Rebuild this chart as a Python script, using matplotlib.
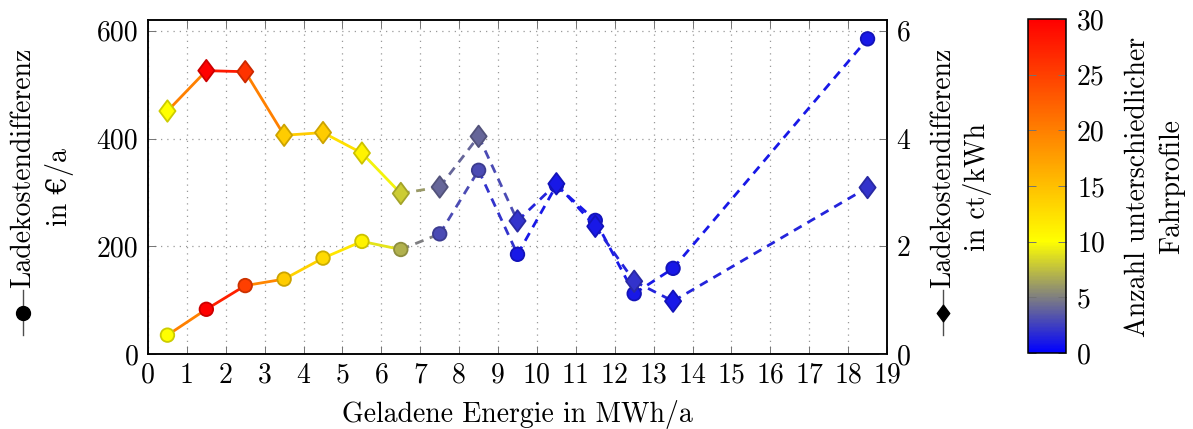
import numpy as np
import matplotlib.pyplot as plt
from matplotlib.colors import LinearSegmentedColormap, Normalize
from matplotlib.collections import LineCollection
from matplotlib.path import Path
from matplotlib.lines import Line2D

plt.rcParams['font.family'] = ['cmr10', 'DejaVu Serif']
plt.rcParams['mathtext.fontset'] = 'cm'
plt.rcParams['axes.unicode_minus'] = False
plt.rcParams['font.size'] = 20

# Daten: geladene Energie (Klassenmitte) und Kostendifferenzen
energie = [0.5, 1.5, 2.5, 3.5, 4.5, 5.5, 6.5, 7.5, 8.5, 9.5, 10.5, 11.5, 12.5, 13.5, 18.5]
kosten_jahr = [35, 83, 127, 139, 178, 209, 194, 223, 341, 185, 313, 248, 112, 159, 585]
kosten_kwh = [4.51, 5.26, 5.24, 4.06, 4.11, 3.73, 2.98, 3.10, 4.04, 2.47, 3.16, 2.37, 1.35, 0.98, 3.09]
profile_jahr = [10, 30, 25, 14, 13, 11, 7, 3, 3, 1, 1, 1, 1, 1, 1]
profile_kwh = [10, 30, 26, 14, 14, 11, 8, 4, 4, 2, 1, 1, 2, 1, 2]
grenze_gestrichelt = 6.5

# Farbskala blau -> grau -> gelb -> rot
cmap = LinearSegmentedColormap.from_list(
    'fahrprofile', [(0, (0, 0, 1)), (5 / 30, (0.5, 0.5, 0.5)), (10 / 30, (1, 1, 0)), (1, (1, 0, 0))])
norm = Normalize(0, 30)

raute = Path([(0, 1), (0.75, 0), (0, -1), (-0.75, 0), (0, 1)],
             [Path.MOVETO, Path.LINETO, Path.LINETO, Path.LINETO, Path.CLOSEPOLY])

W, H = 1193, 429
fig = plt.figure(figsize=(W / 100, H / 100), dpi=100)
ax = fig.add_axes([148 / W, 1 - 354 / H, (887 - 148) / W, (354 - 20) / H])
ax2 = ax.twinx()


def zeichne(achse, x, y, anzahl, marker, msize, z):
    x = np.asarray(x, float)
    y = np.asarray(y, float)
    anzahl = np.asarray(anzahl, float)
    segs = [[(x[i], y[i]), (x[i + 1], y[i + 1])] for i in range(len(x) - 1)]
    farben = [cmap(norm((anzahl[i] + anzahl[i + 1]) / 2)) for i in range(len(x) - 1)]
    stile = ['-' if x[i] < grenze_gestrichelt else (0, (3.2, 2.4)) for i in range(len(x) - 1)]
    lc = LineCollection(segs, colors=farben, linestyles=stile, linewidths=2.0, zorder=z)
    achse.add_collection(lc)
    fc = cmap(norm(anzahl))
    ec = fc.copy()
    ec[:, :3] *= 0.8
    achse.scatter(x, y, s=msize, marker=marker, c=fc, edgecolors=ec, linewidths=1.3, zorder=z + 1)


zeichne(ax, energie, kosten_jahr, profile_jahr, 'o', 95, 3)
zeichne(ax2, energie, kosten_kwh, profile_kwh, raute, 240, 3)

ax.set_xlim(0, 19)
ax.set_ylim(0, 620)
ax2.set_ylim(0, 6.2)
ax.set_xticks(range(0, 20))
ax.set_yticks([0, 200, 400, 600])
ax2.set_yticks([0, 2, 4, 6])
ax.grid(True, linestyle=(0, (1, 4)), color='0.6', linewidth=0.9)
ax.tick_params(axis='x', direction='in', top=True, length=6, width=0.7, color='0.45', pad=6)
ax.tick_params(axis='y', direction='in', length=6, width=0.7, color='0.45', pad=7)
ax2.tick_params(axis='y', direction='in', length=6, width=0.7, color='0.45', pad=7)
for a in (ax, ax2):
    for s in a.spines.values():
        s.set_linewidth(1.1)
ax.set_xlabel('Geladene Energie in MWh/a', labelpad=8)

# Achsenbeschriftungen mit Legendensymbol
def ylabel_mit_symbol(x1, x2, text2, marker, msize):
    fig.text(x1 / W, 1 - 288 / H, 'Ladekostendifferenz', rotation=90, ha='center', va='bottom')
    fig.text(x2 / W, 1 - 187 / H, text2, rotation=90, ha='center', va='center')
    fig.add_artist(Line2D([x1 / W, x1 / W], [1 - 290 / H, 1 - 335 / H], color='0.3', lw=1.0))
    fig.add_artist(Line2D([x1 / W], [1 - 313 / H], marker=marker, markersize=msize,
                          color='black', linestyle='none'))


ylabel_mit_symbol(23, 60, 'in €/a', 'o', 10)
ylabel_mit_symbol(943, 978, 'in ct/kWh', raute, 12)

# Farbbalken
cax = fig.add_axes([1028 / W, 1 - 353 / H, 38 / W, (353 - 19) / H])
sm = plt.cm.ScalarMappable(norm=norm, cmap=cmap)
cb = fig.colorbar(sm, cax=cax, ticks=range(0, 31, 5))
cb.outline.set_linewidth(1.1)
cax.tick_params(direction='in', left=True, right=True, length=6, width=0.7, color='0.45', pad=8)
fig.text(1155 / W, 1 - 187 / H, 'Anzahl unterschiedlicher\nFahrprofile', rotation=90,
         ha='center', va='center', multialignment='center', linespacing=1.35)

fig.savefig('out.png', dpi=100)
